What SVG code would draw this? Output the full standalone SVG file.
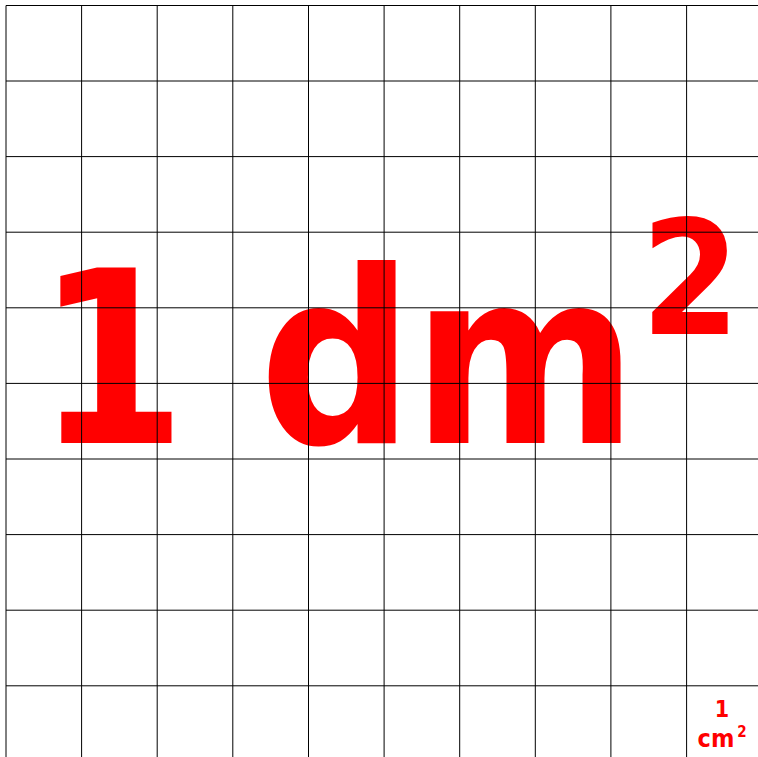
<svg xmlns="http://www.w3.org/2000/svg" width="758" height="757" viewBox="0 0 758 757">
  <style>
    .lbl { font-family: "DejaVu Sans Condensed", "DejaVu Sans", Verdana, sans-serif; font-weight: bold; fill: #ff0000; }
    .grid line { stroke: #000; stroke-width: 1; }
  </style>
  <rect width="758" height="757" fill="#fff"/>
  <g id="label-big">
    <text class="lbl" font-size="240" x="36" y="443">1</text>
    <text class="lbl" font-size="240" x="259" y="443">d<tspan dx="-1">m</tspan></text>
    <text class="lbl" font-size="158" x="641" y="334">2</text>
  </g>
  <g id="label-small">
    <text class="lbl" font-size="23" x="722" y="717" text-anchor="middle">1</text>
    <text class="lbl" font-size="25" x="716" y="747" text-anchor="middle">cm</text>
    <text class="lbl" font-size="15" x="742" y="737" text-anchor="middle">2</text>
  </g>
  <g id="grid" class="grid">
    <line x1="6" y1="5.5" x2="758" y2="5.5"/>
    <line x1="6" y1="81" x2="758" y2="81"/>
    <line x1="6" y1="156.6" x2="758" y2="156.6"/>
    <line x1="6" y1="232.2" x2="758" y2="232.2"/>
    <line x1="6" y1="307.8" x2="758" y2="307.8"/>
    <line x1="6" y1="383.4" x2="758" y2="383.4"/>
    <line x1="6" y1="459" x2="758" y2="459"/>
    <line x1="6" y1="534.6" x2="758" y2="534.6"/>
    <line x1="6" y1="610.2" x2="758" y2="610.2"/>
    <line x1="6" y1="685.8" x2="758" y2="685.8"/>
    <line x1="6" y1="5.5" x2="6" y2="757"/>
    <line x1="81.6" y1="5.5" x2="81.6" y2="757"/>
    <line x1="157.2" y1="5.5" x2="157.2" y2="757"/>
    <line x1="232.8" y1="5.5" x2="232.8" y2="757"/>
    <line x1="308.5" y1="5.5" x2="308.5" y2="757"/>
    <line x1="384.1" y1="5.5" x2="384.1" y2="757"/>
    <line x1="459.7" y1="5.5" x2="459.7" y2="757"/>
    <line x1="535.3" y1="5.5" x2="535.3" y2="757"/>
    <line x1="610.9" y1="5.5" x2="610.9" y2="757"/>
    <line x1="686.6" y1="5.5" x2="686.6" y2="757"/>
  </g>
</svg>
